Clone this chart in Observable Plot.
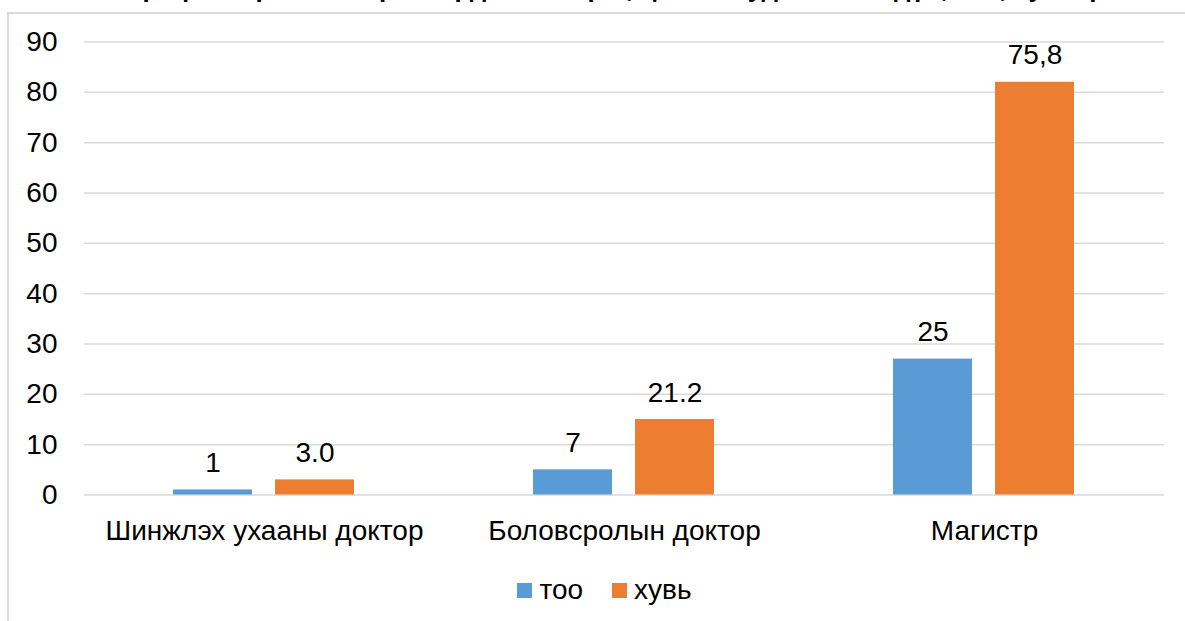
<!DOCTYPE html>
<html>
<head>
<meta charset="utf-8">
<script src="https://cdn.jsdelivr.net/npm/d3@7"></script>
<script src="https://cdn.jsdelivr.net/npm/@observablehq/plot@0.6"></script>
<style>
  html, body { margin: 0; padding: 0; background: #fff; overflow: hidden; }
  body { width: 1185px; height: 621px; position: relative; font-family: "Liberation Sans", Arial, sans-serif; }
  #frame { position: absolute; left: 7px; top: 12px; width: 1300px; height: 800px; border: 2px solid #d9d9d9; box-sizing: border-box; }
  #title { position: absolute; left: 22px; width: 1185px; top: -25px; line-height: 26px; text-align: center; font-weight: bold; font-size: 26px; color: #000; white-space: nowrap; }
  #chart { position: absolute; left: 0; top: 0; }
  #legend { position: absolute; top: 574px; left: 0; width: 1185px; display: flex; justify-content: center; gap: 29px; font-size: 28px; color: #000; margin-left: 12px; }
  #legend span.item { display: inline-flex; align-items: center; }
  #legend span.sw { display: inline-block; width: 15px; height: 15px; margin-right: 7px; }
</style>
</head>
<body>
<div id="frame"></div>
<div id="title">Профессор багш нарын эрдмийн зэрэг, цолны судалгааны дүн, тоо, хувиар</div>
<div id="chart"></div>
<div id="legend"></div>
<script>
const categories = ["Шинжлэх ухааны доктор", "Боловсролын доктор", "Магистр"];
const seriesNames = ["тоо", "хувь"];
const seriesColors = ["#5B9BD5", "#ED7D31"];
// bar heights as drawn in the picture
const tooValues = [1, 5, 27];
const khuviValues = [3, 15, 82];
// data labels as printed in the picture
const tooLabels = ["1", "7", "25"];
const khuviLabels = ["3.0", "21.2", "75,8"];
const yTicks = [0, 10, 20, 30, 40, 50, 60, 70, 80, 90];

const data = [];
categories.forEach((c, i) => {
  data.push({cat: c, series: seriesNames[0], value: tooValues[i], label: tooLabels[i]});
  data.push({cat: c, series: seriesNames[1], value: khuviValues[i], label: khuviLabels[i]});
});

const chart = Plot.plot({
  width: 1185,
  height: 621,
  marginLeft: 83,
  marginRight: 20,
  marginTop: 41.5,
  marginBottom: 126.5,
  style: {fontFamily: "'Liberation Sans', Arial, sans-serif", fontSize: "28px", color: "#000", background: "transparent"},
  fx: {domain: categories, padding: 0, label: null},
  x: {domain: seriesNames, paddingInner: 0.223, paddingOuter: 0.862, axis: null},
  y: {domain: [0, 90], ticks: yTicks, label: null},
  color: {domain: seriesNames, range: seriesColors},
  marks: [
    Plot.gridY(yTicks, {stroke: "#d9d9d9", strokeOpacity: 1, strokeWidth: 1.5}),
    Plot.axisY(yTicks, {tickSize: 0, tickPadding: 27, fontSize: 28, label: null}),
    Plot.axisFx({tickSize: 0, tickPadding: 25, fontSize: 28, label: null, anchor: "bottom"}),
    Plot.barY(data, {fx: "cat", x: "series", y: "value", fill: "series"}),
    Plot.text(data, {fx: "cat", x: "series", y: "value", text: "label", dy: -18, lineAnchor: "bottom", fontSize: 28, fill: "#000"})
  ]
});
document.getElementById("chart").appendChild(chart);

const legend = document.getElementById("legend");
seriesNames.forEach((s, i) => {
  const item = document.createElement("span");
  item.className = "item";
  const sw = document.createElement("span");
  sw.className = "sw";
  sw.style.background = seriesColors[i];
  item.appendChild(sw);
  item.appendChild(document.createTextNode(s));
  legend.appendChild(item);
});
</script>
</body>
</html>
